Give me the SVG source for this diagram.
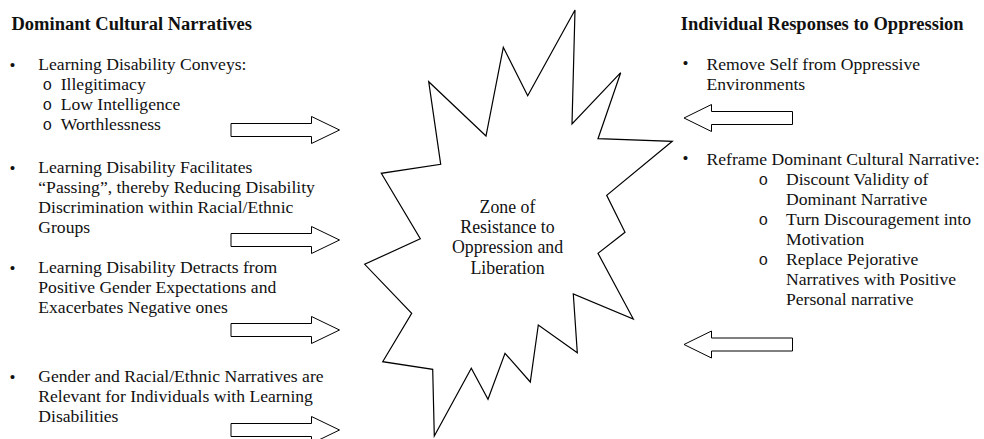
<svg xmlns="http://www.w3.org/2000/svg" xmlns:xlink="http://www.w3.org/1999/xlink" width="984" height="439" viewBox="0 0 984 439">
<style>
text{font-family:"Liberation Serif","Times New Roman",serif;font-size:17.6px;fill:#111}
.h{font-weight:bold;font-size:18.5px}
.b{font-size:17px}
.o{font-family:"Liberation Mono","Courier New",monospace;font-size:16px}
.c{text-anchor:middle;font-size:17.8px}
.arr{fill:#fff;stroke:#000;stroke-width:1}
.star{fill:#fff;stroke:#000;stroke-width:1.2;stroke-linejoin:miter}
</style>
<defs>
<path id="ar" class="arr" d="M231,-6.5H311.5V-13.5L339.5,0L311.5,13.5V6.5H231Z"/>
<path id="al" class="arr" d="M792.5,-6.5H711.5V-13.5L684,0L711.5,13.5V6.5H792.5Z"/>
</defs>
<rect width="984" height="439" fill="#fff"/>
<g id="zone">
<polygon class="star" points="575,10 572,124 620.7,72.7 598,138.7 672.3,141.3 606.7,195.3 625,232.3 598,253.3 633.3,319 573.3,294 577.3,352.7 538.3,325 530.3,382 505,353.3 488,399.3 471.3,368.3 434.3,436 432.7,369.3 382.7,361.7 411.7,313.3 364.7,264.3 420.3,238.7 381.3,173.3 440.7,164.3 428.7,81.7 486,136 503.3,47.3 527.7,95.7"/>
<text class="c" x="507.5" y="213.3">Zone of</text>
<text class="c" x="507.5" y="233.3">Resistance to</text>
<text class="c" x="507.5" y="253.3">Oppression and</text>
<text class="c" x="507.5" y="274">Liberation</text>
</g>
<g id="dominant">
<text class="h" x="11.5" y="30">Dominant Cultural Narratives</text>
<text class="b" x="9.5" y="71">•</text>
<text x="38.3" y="70">Learning Disability Conveys:</text>
<text class="o" x="42.5" y="90">o</text><text x="60.7" y="90">Illegitimacy</text>
<text class="o" x="42.5" y="110">o</text><text x="60.7" y="110">Low Intelligence</text>
<text class="o" x="42.5" y="130">o</text><text x="60.7" y="130">Worthlessness</text>
<text class="b" x="9.5" y="174.3">•</text>
<text x="38.3" y="173.3">Learning Disability Facilitates</text>
<text x="38.3" y="193.3">“Passing”, thereby Reducing Disability</text>
<text x="38.3" y="213.3">Discrimination within Racial/Ethnic</text>
<text x="38.3" y="233.3">Groups</text>
<text class="b" x="9.5" y="274.3">•</text>
<text x="38.3" y="273.3">Learning Disability Detracts from</text>
<text x="38.3" y="293.3">Positive Gender Expectations and</text>
<text x="38.3" y="313.3">Exacerbates Negative ones</text>
<text class="b" x="9.5" y="382.7">•</text>
<text x="38.3" y="381.7">Gender and Racial/Ethnic Narratives are</text>
<text x="38.3" y="401.7">Relevant for Individuals with Learning</text>
<text x="38.3" y="421.7">Disabilities</text>
</g>
<g id="responses">
<text class="h" x="680.7" y="30">Individual Responses to Oppression</text>
<text class="b" x="682.5" y="69">•</text>
<text x="706.5" y="70">Remove Self from Oppressive</text>
<text x="706.5" y="90">Environments</text>
<text class="b" x="682.5" y="164">•</text>
<text x="706.5" y="165">Reframe Dominant Cultural Narrative:</text>
<text class="o" x="758.5" y="185">o</text><text x="786" y="185">Discount Validity of</text>
<text x="786" y="205">Dominant Narrative</text>
<text class="o" x="758.5" y="225">o</text><text x="786" y="225">Turn Discouragement into</text>
<text x="786" y="245">Motivation</text>
<text class="o" x="758.5" y="265">o</text><text x="786" y="265">Replace Pejorative</text>
<text x="786" y="285">Narratives with Positive</text>
<text x="786" y="305">Personal narrative</text>
</g>
<g id="connectors">
<use xlink:href="#ar" y="130"/>
<use xlink:href="#ar" y="240"/>
<use xlink:href="#ar" y="330"/>
<use xlink:href="#ar" y="430"/>
<use xlink:href="#al" y="118"/>
<use xlink:href="#al" y="344.5"/>
</g>
</svg>
